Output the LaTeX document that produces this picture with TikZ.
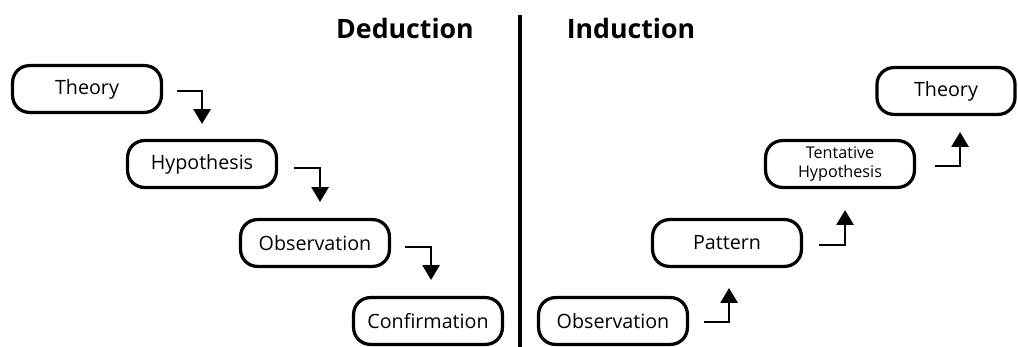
\documentclass[tikz,border=0pt]{standalone}
\usepackage{fontspec}
\setmainfont{Open Sans}
\usepackage{tikz}
\usetikzlibrary{positioning, arrows.meta, calc}

\begin{document}
\begin{tikzpicture}[x=0.025cm, y=-0.025cm,
  step box/.style={draw, line width=2.3pt, rounded corners=0.42cm, minimum width=3.72cm, minimum height=1.17cm, align=center, font=\fontsize{14}{16}\selectfont},
  elbow/.style={line width=1.8pt, -{Triangle[width=12pt, length=10.5pt]}},
  hdr/.style={font=\fontsize{19}{22}\selectfont\bfseries}]
\useasboundingbox (0,0) rectangle (1018,347);
% deduction
\node[hdr] (ded) at (405,28) {Deduction};
\node[step box] (theoryD) at (87,89) {Theory};
\node[step box] (hypD) at (202,164) {Hypothesis};
\node[step box] (obsD) at (315,243) {Observation};
\node[step box] (confD) at (428,321) {Confirmation};
\draw[elbow] ($(theoryD.east)+(14,2)$) -- ++(25,0) -- ++(0,33);
\draw[elbow] ($(hypD.east)+(16,4)$) -- ++(26,0) -- ++(0,34);
\draw[elbow] ($(obsD.east)+(14,4)$) -- ++(26,0) -- ++(0,33);
% divider
\coordinate (divTop) at (520,15); \coordinate (divBot) at (520,347);
\draw[line width=2.3pt] (divTop) -- (divBot);
% induction
\node[hdr] (ind) at (631,28) {Induction};
\node[step box] (obsI) at (613,321) {Observation};
\node[step box] (patI) at (727,243) {Pattern};
\node[step box, font=\fontsize{11.5}{13.5}\selectfont] (tentI) at (840,164) {Tentative\\Hypothesis};
\node[step box, minimum width=3.45cm] (theoryI) at (946,91) {Theory};
\draw[elbow] ($(obsI.east)+(15,1)$) -- ++(25,0) -- ++(0,-34);
\draw[elbow] ($(patI.east)+(16,2)$) -- ++(26,0) -- ++(0,-35);
\draw[elbow] ($(tentI.east)+(19,2)$) -- ++(25,0) -- ++(0,-34);
\end{tikzpicture}
\end{document}
